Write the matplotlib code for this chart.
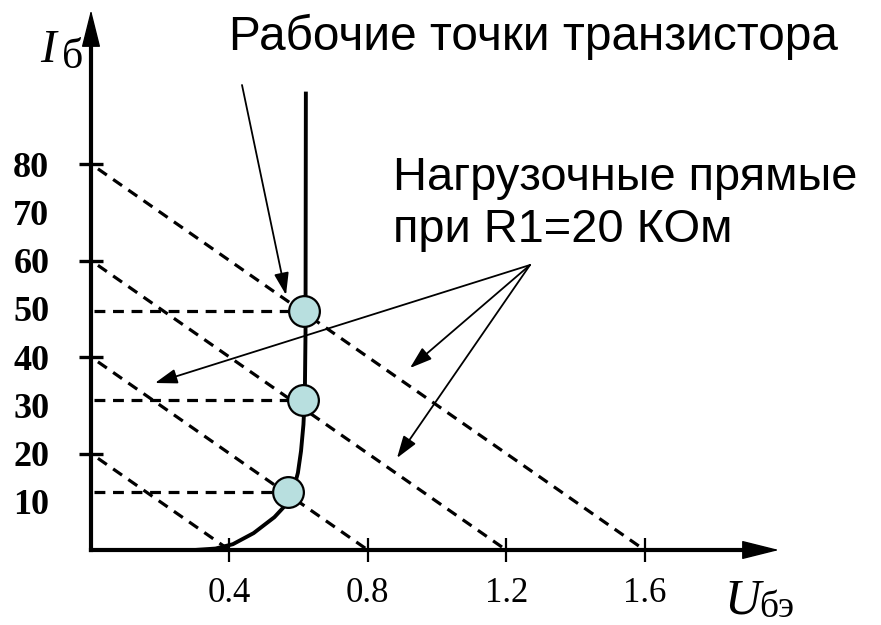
import matplotlib
matplotlib.use('Agg')
import matplotlib.pyplot as plt

plt.rcParams['font.family'] = ['Liberation Serif', 'DejaVu Serif']

# ---- data ----
u_curve = [0.30, 0.36, 0.41, 0.47, 0.53, 0.565, 0.585, 0.598, 0.607, 0.614, 0.618, 0.620, 0.621]
i_curve = [0.0, 0.3, 1.2, 3.5, 6.8, 9.5, 12.5, 16.0, 20.5, 26.0, 32.0, 45.0, 95.0]
load_i0 = [80, 60, 40, 20]          # load-line intercepts on the I axis
load_u0 = [1.6, 1.2, 0.8, 0.4]      # load-line intercepts on the U axis
work_u = [0.616, 0.613, 0.569]      # working points
work_i = [49.5, 31.0, 12.0]
y_major = [20, 40, 60, 80]
y_minor = [10, 30, 50, 70]
x_ticks = [0.4, 0.8, 1.2, 1.6]
x_labels = ['0.4', '0.8', '1.2', '1.6']

W, H = 881, 625
X0, SX = 91, 346.0     # pixel of U=0, px per volt
Y0, SY = 550, 4.825    # pixel of I=0, px per unit


def px(x, y):
    return ((x - X0) / SX, (Y0 - y) / SY)


fig = plt.figure(figsize=(W / 100, H / 100), dpi=100)
ax = fig.add_axes([0, 0, 1, 1])
ax.set_xlim(-X0 / SX, (W - X0) / SX)
ax.set_ylim((Y0 - H) / SY, Y0 / SY)

for s in ('top', 'right'):
    ax.spines[s].set_visible(False)
ax.spines['left'].set_position(('data', 0))
ax.spines['bottom'].set_position(('data', 0))
ax.spines['left'].set_bounds(0, px(0, 40)[1])
ax.spines['bottom'].set_bounds(0, px(750, 0)[0])
for s in ('left', 'bottom'):
    ax.spines[s].set_linewidth(3)
    ax.spines[s].set_capstyle('projecting')

# axis arrow heads
ax.annotate('', xy=(0, px(0, 10)[1]), xytext=(0, px(0, 60)[1]),
            arrowprops=dict(arrowstyle='-|>,head_length=1.2,head_width=0.3',
                            mutation_scale=20, lw=1, color='black',
                            shrinkA=0, shrinkB=0))
ax.annotate('', xy=(px(779, 0)[0], 0), xytext=(px(720, 0)[0], 0),
            arrowprops=dict(arrowstyle='-|>,head_length=1.2,head_width=0.3',
                            mutation_scale=20, lw=1, color='black',
                            shrinkA=0, shrinkB=0))

# ticks
ax.set_xticks(x_ticks, x_labels, fontsize=25)
ax.tick_params(axis='x', which='major', direction='inout', length=17,
               width=1.6, pad=11)
ax.set_yticks(y_major, [str(v) for v in y_major], fontsize=26, fontweight='bold')
ax.set_yticks(y_minor, [str(v) for v in y_minor], minor=True, fontsize=26,
              fontweight='bold')
ax.tick_params(axis='y', which='major', direction='inout', length=17,
               width=2.4, pad=21.5)
ax.tick_params(axis='y', which='minor', direction='inout', length=0, pad=30)
ax.tick_params(axis='x', which='minor', length=0)

# load lines
for i0, u0 in zip(load_i0, load_u0):
    ax.plot([0.02, u0], [i0 - 0.02 * i0 / u0, 0], color='black', lw=2.3,
            linestyle=(0, (3.4, 2.4)), zorder=2)

# horizontal dashed lines to working points
for u, i in zip(work_u, work_i):
    ax.plot([0.01, u], [i, i], color='black', lw=2.3,
            linestyle=(0, (3.4, 2.4)), zorder=2)

# input characteristic
ax.plot(u_curve, i_curve, color='black', lw=2.8, zorder=3,
        solid_capstyle='butt')

# working points
ax.scatter(work_u, work_i, s=490, facecolor='#b8dfdf', edgecolor='black',
           linewidth=1.6, zorder=5)

# annotation arrows
arrow_kw = dict(arrowstyle='-|>,head_length=0.9,head_width=0.3',
                mutation_scale=15, lw=1.3, color='black',
                shrinkA=0, shrinkB=0)
ax.annotate('', xy=px(286, 295), xytext=px(242, 85), arrowprops=arrow_kw)
for tip in [(155, 383), (410, 368), (397, 458)]:
    ax.annotate('', xy=px(*tip), xytext=px(530, 265), arrowprops=arrow_kw)

# texts
def ftext(x, y, s, **kw):
    fig.text(x / W, 1 - y / H, s, va='baseline', ha='left', **kw)


ftext(229, 50, 'Рабочие точки транзистора', fontsize=34.4,
      family='Liberation Sans')
ftext(393, 190, 'Нагрузочные прямые', fontsize=33.8, family='Liberation Sans')
ftext(393, 242, 'при R1=20 КОм', fontsize=33.8, family='Liberation Sans')

ftext(40, 62, 'I', fontsize=34, style='italic')
ftext(62, 68, 'б', fontsize=30)
ftext(724, 613, 'U', fontsize=36, style='italic')
ftext(759, 617, 'бэ', fontsize=27)

fig.savefig('out.png', dpi=100, facecolor='white')
